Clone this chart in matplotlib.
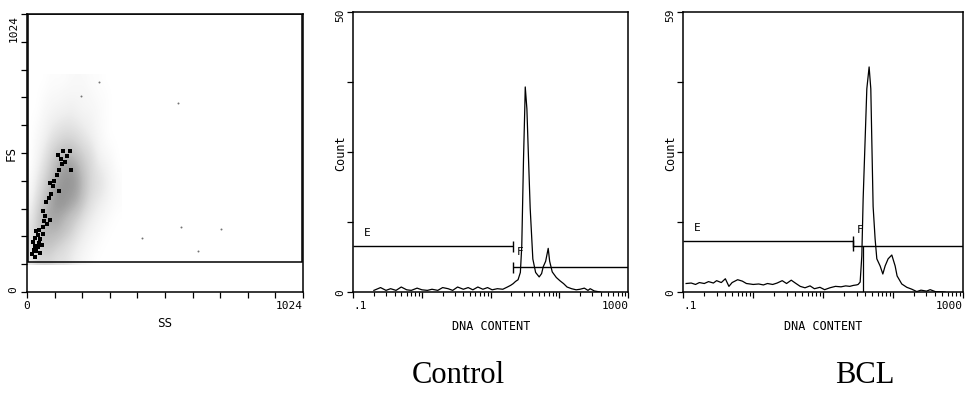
import matplotlib.pyplot as plt
import numpy as np
from matplotlib.patches import Rectangle
from matplotlib.ticker import LogLocator, NullFormatter

# ============================================================
# data
# ============================================================

# FS / SS dot plot: density of the grey cloud (rows = FS bins, cols = SS bins)
ss_edges = [0, 350]
fs_edges = [100, 800]
density = np.array([
    [0.3, 0.5, 0.5, 0.5, 0.4, 0.4, 0.3, 0.2, 0.1, 0.05, 0, 0, 0, 0],
    [0.4, 0.6, 0.7, 0.7, 0.6, 0.5, 0.4, 0.3, 0.2, 0.1, 0.05, 0, 0, 0],
    [0.4, 0.6, 0.8, 0.8, 0.8, 0.7, 0.6, 0.4, 0.3, 0.2, 0.1, 0.05, 0, 0],
    [0.3, 0.6, 0.8, 0.9, 0.9, 0.8, 0.7, 0.6, 0.4, 0.3, 0.2, 0.1, 0.05, 0],
    [0.2, 0.5, 0.7, 0.9, 1.0, 1.0, 0.9, 0.8, 0.6, 0.4, 0.3, 0.2, 0.1, 0.05],
    [0.1, 0.4, 0.6, 0.8, 1.0, 1.0, 1.0, 0.9, 0.7, 0.5, 0.4, 0.3, 0.15, 0.05],
    [0.05, 0.3, 0.5, 0.7, 0.9, 1.0, 1.0, 0.9, 0.7, 0.5, 0.4, 0.3, 0.15, 0.05],
    [0, 0.2, 0.4, 0.6, 0.8, 0.9, 0.9, 0.8, 0.6, 0.5, 0.3, 0.2, 0.1, 0],
    [0, 0.15, 0.3, 0.5, 0.6, 0.7, 0.7, 0.6, 0.5, 0.4, 0.2, 0.1, 0.05, 0],
    [0, 0.1, 0.2, 0.35, 0.45, 0.5, 0.5, 0.45, 0.35, 0.25, 0.15, 0.05, 0, 0],
    [0, 0.05, 0.15, 0.25, 0.3, 0.35, 0.35, 0.3, 0.25, 0.2, 0.1, 0.05, 0, 0],
    [0, 0, 0.1, 0.15, 0.2, 0.2, 0.25, 0.2, 0.15, 0.15, 0.1, 0.05, 0, 0],
    [0, 0, 0.05, 0.1, 0.1, 0.15, 0.15, 0.15, 0.15, 0.1, 0.05, 0.05, 0, 0],
    [0, 0, 0, 0.05, 0.05, 0.05, 0.1, 0.1, 0.1, 0.05, 0.05, 0, 0, 0],
])

dark_ss = [20, 25, 30, 22, 35, 40, 45, 30, 40, 50, 55, 35, 45, 60, 28, 50,
           60, 62, 65, 58, 75, 85,
           70, 80, 90, 95, 100, 85, 118,
           110, 120, 130, 125, 140, 150, 160, 165, 135, 115]
dark_fs = [140, 155, 170, 185, 150, 165, 180, 200, 210, 195, 175, 225, 230, 215, 130, 145,
           240, 260, 280, 300, 250, 265,
           330, 345, 360, 390, 410, 400, 372,
           430, 450, 470, 490, 480, 500, 520, 450, 520, 505]

stray_ss = [562, 570, 718, 426, 636, 200, 266]
stray_fs = [695, 239, 232, 199, 151, 721, 773]

gate_ss = (5, 1020)
gate_fs = (110, 1024)

# Control DNA histogram
ctrl_dna = [0.2, 0.25, 0.3, 0.35, 0.42, 0.5, 0.6, 0.7, 0.85, 1.0,
            1.2, 1.4, 1.7, 2.0, 2.4, 2.8, 3.3, 4.0, 4.7, 5.5,
            6.5, 7.7, 9.0, 10.5, 12.5, 15, 17.5, 19.5, 21.2, 23,
            25, 27, 28.3, 30, 31.3, 31.8, 33.6, 35.5, 37.5, 41,
            45, 50.7, 55, 58, 63, 68.6, 72, 78.5, 90, 102,
            115, 129, 150, 175, 199, 230, 260, 280, 320, 392]
ctrl_count = [0.3, 0.8, 0.3, 0.6, 0.3, 0.9, 0.4, 0.3, 0.7, 0.4,
              0.3, 0.5, 0.3, 0.8, 0.6, 0.3, 0.9, 0.5, 0.8, 0.4,
              0.9, 0.5, 0.8, 0.4, 0.6, 0.5, 0.9, 1.2, 1.5, 1.9,
              2.2, 3.5, 8.2, 23.7, 32.7, 36.6, 32.7, 23.7, 15, 5.9,
              3.5, 2.7, 3.3, 4.5, 5.5, 7.8, 5.5, 3.6, 2.6, 2.0,
              1.5, 0.9, 0.6, 0.4, 0.5, 0.7, 0.3, 0.6, 0.2, 0.0]
ctrl_ymax = 50
ctrl_gate_e = (0.1, 21.2, 8.2)     # start, end, level
ctrl_gate_f = (21.2, 1000, 4.4)

# BCL DNA histogram
bcl_dna = [0.11, 0.13, 0.15, 0.17, 0.2, 0.23, 0.27, 0.3, 0.35, 0.4,
           0.45, 0.5, 0.6, 0.7, 0.8, 0.9, 1.0, 1.2, 1.4, 1.6,
           1.9, 2.2, 2.6, 3.0, 3.5, 4.0, 4.7, 5.5, 6.5, 7.5,
           9, 10.5, 12.5, 15, 18, 21, 24, 27, 30, 31.6,
           33.8, 35.7, 37.3, 39.8, 42.1, 45.4, 48, 49.6, 51.8, 55.3,
           58.5, 65.2, 71.3, 76.9, 84.9, 95.8, 106.9, 114, 133, 157,
           185, 218, 250, 300, 339, 400, 552]
bcl_count = [1.8, 1.9, 1.6, 2.0, 1.8, 2.2, 1.9, 2.4, 2.0, 2.8,
             1.2, 2.0, 2.6, 2.3, 1.8, 1.7, 1.6, 1.7, 1.5, 1.8,
             1.6, 1.9, 2.4, 1.8, 2.5, 1.9, 1.2, 0.9, 1.3, 0.7,
             1.0, 0.5, 0.9, 1.2, 1.1, 1.3, 1.2, 1.4, 1.5, 1.6,
             2.1, 7.6, 19.6, 32, 42.8, 47.4, 42.8, 32, 18, 11.2,
             7, 5.5, 3.8, 5.5, 7, 7.8, 5.5, 3.4, 1.7, 1.0,
             0.6, 0.1, 0.4, 0.2, 0.5, 0.1, 0.0]
bcl_ymax = 59
bcl_gate_e = (0.1, 26.8, 10.7)
bcl_gate_f = (26.8, 1000, 9.8)
bcl_marker = 36.9

mono = 'DejaVu Sans Mono'
fig = plt.figure(figsize=(9.65, 4.02), dpi=100)


def frame(ax):
    for s in ax.spines.values():
        s.set_color('black')
        s.set_linewidth(1.1)
    ax.tick_params(which='both', direction='out', top=False, right=False,
                   color='black', labelsize=8, pad=2)
    ax.tick_params(which='major', length=4, width=0.9)
    ax.tick_params(which='minor', length=3, width=0.8)
    for lab in ax.get_xticklabels() + ax.get_yticklabels():
        lab.set_family(mono)


# ============================================================
# 1) FS vs SS dot plot
# ============================================================
ax1 = fig.add_axes([0.028, 0.271, 0.286, 0.692])
ax1.imshow(density, extent=[ss_edges[0], ss_edges[1], fs_edges[0], fs_edges[1]],
           origin='lower', cmap='Greys', vmin=0, vmax=2.0,
           interpolation='bicubic', aspect='auto')
ax1.scatter(stray_ss, stray_fs, s=2, c='0.45', linewidths=0)
ax1.scatter(dark_ss, dark_fs, s=5, c='black', marker='s', linewidths=0)
ax1.add_patch(Rectangle((gate_ss[0], gate_fs[0]), gate_ss[1] - gate_ss[0],
                        gate_fs[1] - gate_fs[0], fill=False, ec='black', lw=1.1))
ax1.set_xlim(0, 1024)
ax1.set_ylim(0, 1024)
ticks = np.linspace(0, 1024, 11)
ax1.set_xticks(ticks)
ax1.set_xticklabels(['0'] + [''] * 9 + ['1024'])
ax1.set_yticks(ticks)
ax1.set_yticklabels(['0'] + [''] * 9 + ['1024'], rotation=90)
ax1.set_xlabel('SS', family=mono, fontsize=9, labelpad=4)
ax1.set_ylabel('FS', family=mono, fontsize=9)
ax1.yaxis.set_label_coords(-0.034, 0.5)
frame(ax1)
ax1.get_xticklabels()[-1].set_ha('right')
ax1.get_yticklabels()[0].set_va('bottom')
ax1.get_yticklabels()[-1].set_va('top')


# ============================================================
# 2) + 3) DNA content histograms
# ============================================================
def histo(rect, dna, count, ymax, gate_e, gate_f, ylab):
    ax = fig.add_axes(rect)
    ax.plot(dna, count, color='black', lw=0.9)
    ax.set_xscale('log')
    ax.set_xlim(0.1, 1000)
    ax.set_ylim(0, ymax)

    # E and F regions
    ax.hlines(gate_e[2], gate_e[0], gate_e[1], color='black', lw=1.0)
    ax.vlines(gate_e[1], gate_e[2] - ymax * 0.02, gate_e[2] + ymax * 0.02,
              color='black', lw=1.0)
    ax.hlines(gate_f[2], gate_f[0], gate_f[1], color='black', lw=1.0)
    ax.vlines(gate_f[0], gate_f[2] - ymax * 0.02, gate_f[2] + ymax * 0.02,
              color='black', lw=1.0)
    ax.text(0.16, gate_e[2] + ymax * 0.05, 'E', family=mono, fontsize=8,
            ha='center', va='center')
    ax.text(gate_f[0] * 1.25, gate_f[2] + ymax * 0.06, 'F', family=mono,
            fontsize=8, ha='center', va='center')

    ax.set_xticks([0.1, 1, 10, 100, 1000])
    ax.set_xticklabels(['.1', '', '', '', '1000'])
    ax.xaxis.set_minor_locator(LogLocator(base=10, subs=np.arange(2, 10)))
    ax.xaxis.set_minor_formatter(NullFormatter())
    ax.set_yticks(np.linspace(0, ymax, 5))
    ax.set_yticklabels(['0', '', '', '', ylab], rotation=90)
    ax.set_xlabel('DNA CONTENT', family=mono, fontsize=8.5, labelpad=6)
    ax.set_ylabel('Count', family=mono, fontsize=8.5)
    ax.yaxis.set_label_coords(-0.022, 0.5)
    frame(ax)
    ax.get_xticklabels()[0].set_ha('left')
    ax.get_xticklabels()[-1].set_ha('right')
    return ax


ax2 = histo([0.366, 0.271, 0.285, 0.697], ctrl_dna, ctrl_count, ctrl_ymax,
            ctrl_gate_e, ctrl_gate_f, '50')
ax3 = histo([0.708, 0.271, 0.290, 0.697], bcl_dna, bcl_count, bcl_ymax,
            bcl_gate_e, bcl_gate_f, '59')
ax3.vlines(bcl_marker, 0, bcl_gate_f[2], color='black', lw=0.9)

fig.text(0.475, 0.067, 'Control', family='Liberation Serif', fontsize=22,
         ha='center', va='center')
fig.text(0.896, 0.067, 'BCL', family='Liberation Serif', fontsize=22,
         ha='center', va='center')

plt.savefig('out.png', dpi=100)
